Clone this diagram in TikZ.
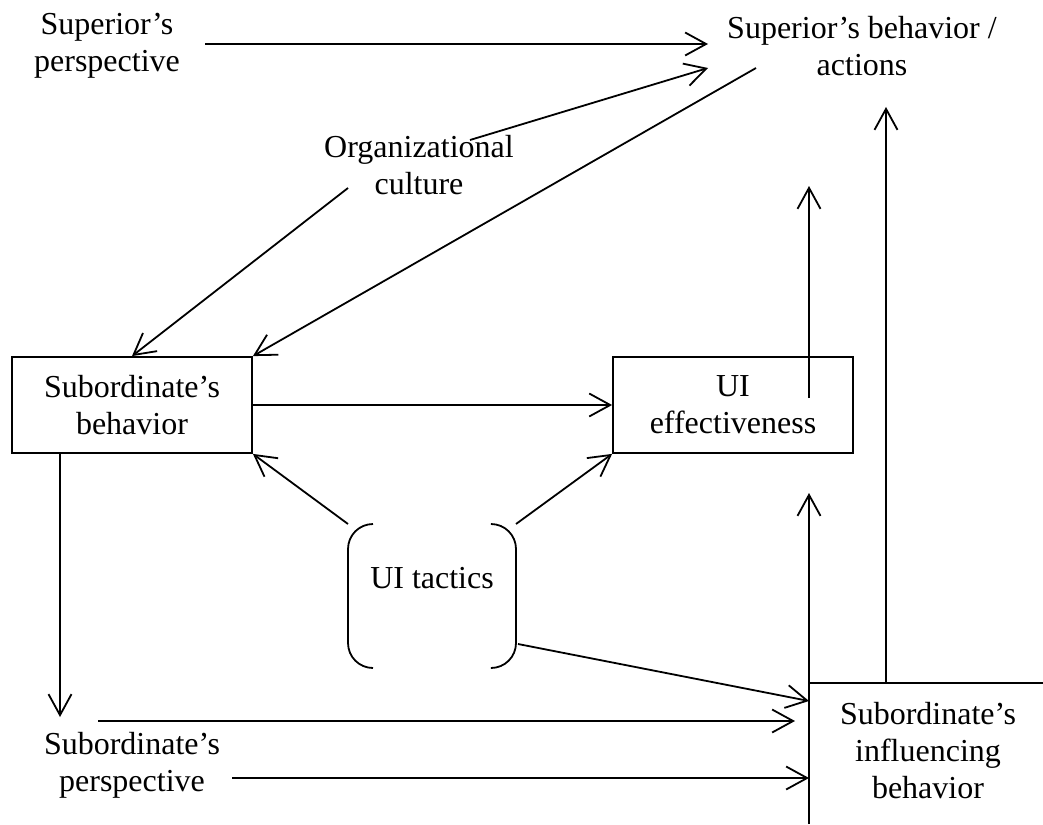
\documentclass[tikz,border=0pt]{standalone}
\usepackage{fontspec}
\setmainfont{Liberation Serif}
\usetikzlibrary{arrows.meta}

\begin{document}
\begin{tikzpicture}[x=1pt,y=-1pt]

    \tikzset{
      lbl/.style={
        align=center,
        inner sep=0pt,
        font=\fontsize{32}{37}\selectfont,
      },
      box/.style={
        lbl,
        draw,
        line width=1.8pt,
        minimum width=240pt,
        minimum height=96pt,
      },
      arr/.style={
        line width=1.8pt,
        -{Straight Barb[length=21pt,width=23pt,line width=1.8pt]},
      },
    }
    \useasboundingbox (0,0) rectangle (1043,824);

    % texts and boxes
    \node[lbl] (sperp) at (107,46) {Superior's\\perspective};
    \node[lbl] (sact) at (862,46) {Superior's behavior /\\actions};
    \node[lbl] (org) at (419,165) {Organizational\\culture};
    \node[box] (sub) at (132,405) {Subordinate's\\behavior};
    \node[box] (uie) at (733,405) {UI\\effectiveness};
    \node[lbl] (tact) at (432,578) {UI tactics};
    \node[lbl] (infl) at (928,751) {Subordinate's\\influencing\\behavior};
    \node[lbl] (subp) at (132,765) {Subordinate's\\perspective};

    % end points
    \coordinate (spo) at (205,44);
    \coordinate (sai1) at (708,44);
    \coordinate (sai2) at (708,68);
    \coordinate (sao) at (756,68);
    \coordinate (oco1) at (470,140);
    \coordinate (oco2) at (348,188);
    \coordinate (uio) at (809,398);
    \coordinate (uit) at (809,186);
    \coordinate (ibl) at (809,824);
    \coordinate (itl) at (809,683);
    \coordinate (itr) at (1043,683);
    \coordinate (uii) at (809,493);
    \coordinate (ito) at (886,683);
    \coordinate (sat) at (886,107);
    \coordinate (tnw) at (348,524);
    \coordinate (tne) at (516,524);
    \coordinate (tout) at (518,644);
    \coordinate (iin1) at (809,701);
    \coordinate (spo1) at (98,721);
    \coordinate (iin2) at (795,721);
    \coordinate (spo2) at (232,778);
    \coordinate (iin3) at (809,778);
    \coordinate (sdo) at (60,453);
    \coordinate (spi) at (60,717);

    % brackets round the tactics
    \draw[line width=1.8pt,rounded corners=25pt] (373,524) -- (tnw) -- (348,668) -- (373,668);
    \draw[line width=1.8pt,rounded corners=25pt] (492,524) -- (tne) -- (516,668) -- (492,668);

    % influencing behavior frame
    \draw[line width=1.8pt] (itr) -- (itl);
    \draw[arr] (ibl) -- (uii);

    % arrows
    \draw[arr] (spo) -- (sai1);
    \draw[arr] (oco1) -- (sai2);
    \draw[arr] (sao) -- (sub.north east);
    \draw[arr] (oco2) -- (sub.north);
    \draw[arr] (sub.east) -- (uie.west);
    \draw[arr] (uio) -- (uit);
    \draw[arr] (ito) -- (sat);
    \draw[arr] (tnw) -- (sub.south east);
    \draw[arr] (tne) -- (uie.south west);
    \draw[arr] (tout) -- (iin1);
    \draw[arr] (sdo) -- (spi);
    \draw[arr] (spo1) -- (iin2);
    \draw[arr] (spo2) -- (iin3);

\end{tikzpicture}
\end{document}
